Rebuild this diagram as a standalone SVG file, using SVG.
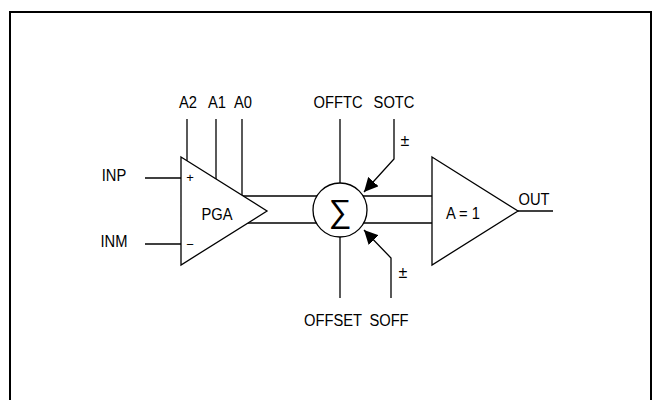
<svg xmlns="http://www.w3.org/2000/svg" width="654" height="400" viewBox="0 0 654 400">
<style>
.t{font-family:"Liberation Sans",Arial,sans-serif;font-size:16px;fill:#000;text-anchor:middle}
.s{fill:none;stroke:#000;stroke-width:1.3}
.f{fill:#fff;stroke:#000;stroke-width:1.3}
</style>
<defs>
<marker id="ah" viewBox="0 0 10 10" refX="10" refY="5" markerWidth="14" markerHeight="14" markerUnits="userSpaceOnUse" orient="auto">
<path d="M0,0 L10,5 L0,10 z" fill="#000"/>
</marker>
</defs>
<rect width="654" height="400" fill="#fff"/>
<path d="M10,402 V12 H651 V402" fill="none" stroke="#000" stroke-width="2"/>
<g id="connectors">
<path class="s" d="M145,178 H181"/>
<path class="s" d="M145,244 H181"/>
<path class="s" d="M187,119 V160.8"/>
<path class="s" d="M216,119 V179"/>
<path class="s" d="M242,119 V195.3"/>
<path class="s" d="M242,196 H432"/>
<path class="s" d="M242,223 H432"/>
<path class="s" d="M340,119 V183"/>
<path class="s" d="M340,237 V298"/>
<path class="s" d="M394,119 V159 L364,192" marker-end="url(#ah)"/>
<path class="s" d="M391,298 V258 L364,230" marker-end="url(#ah)"/>
<path class="s" d="M518,211 H553"/>
</g>
<g id="pga">
<path class="f" d="M181,157 L267,211 L181,265 Z"/>
<text class="t" transform="translate(217,220) scale(0.92,1)">PGA</text>
<text class="t" x="190" y="182" style="font-size:13px">+</text>
<text class="t" x="190" y="249" style="font-size:13px">−</text>
</g>
<g id="sum">
<circle class="f" cx="340" cy="210" r="27"/>
<text class="t" x="340" y="222" style="font-size:32px">∑</text>
</g>
<g id="buffer">
<path class="f" d="M432,157 L518,211 L432,265 Z"/>
<text class="t" transform="translate(463,219) scale(0.92,1)">A = 1</text>
</g>
<g id="labels">
<text class="t" transform="translate(188,108) scale(0.92,1)">A2</text>
<text class="t" transform="translate(217,108) scale(0.92,1)">A1</text>
<text class="t" transform="translate(243,108) scale(0.92,1)">A0</text>
<text class="t" transform="translate(114,181) scale(0.92,1)">INP</text>
<text class="t" transform="translate(114,247) scale(0.92,1)">INM</text>
<text class="t" transform="translate(338,108) scale(0.92,1)">OFFTC</text>
<text class="t" transform="translate(394,108) scale(0.92,1)">SOTC</text>
<text class="t" transform="translate(405,146)">±</text>
<text class="t" transform="translate(403,278)">±</text>
<text class="t" transform="translate(333,326) scale(0.92,1)">OFFSET</text>
<text class="t" transform="translate(389,326) scale(0.92,1)">SOFF</text>
<text class="t" transform="translate(534,205) scale(0.92,1)">OUT</text>
</g>
</svg>
